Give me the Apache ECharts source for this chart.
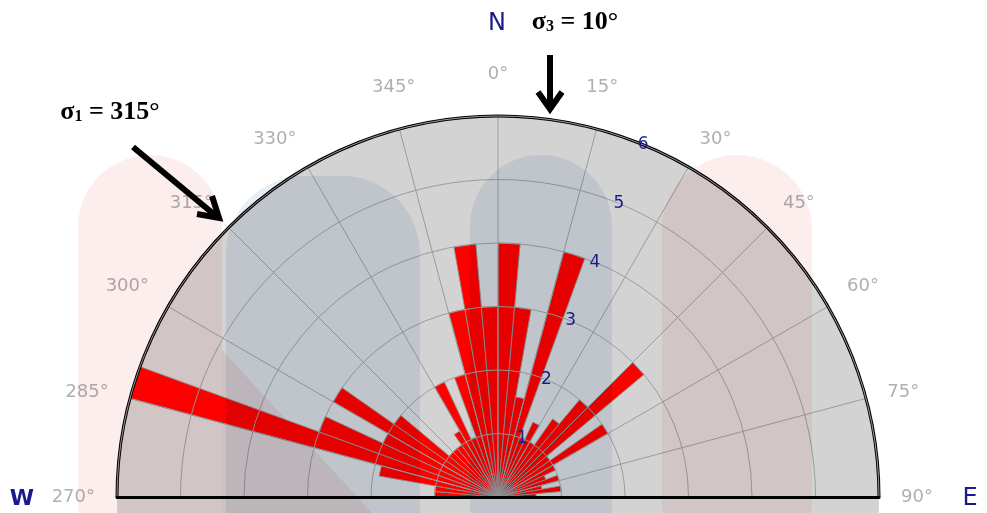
<!DOCTYPE html>
<html><head><meta charset="utf-8">
<script src="https://cdn.jsdelivr.net/npm/echarts@6/dist/echarts.min.js"></script>
<style>html,body{margin:0;padding:0;background:#fff}#c{width:987px;height:513px}</style>
</head><body><div id="c"></div>
<script>
// ---- data ----
const binStarts = [-90,-85,-80,-75,-70,-65,-60,-55,-50,-45,-40,-35,-30,-25,-20,-15,-10,-5,
                   0,5,10,15,20,25,30,35,40,45,50,55,60,65,70,75,80,85];
const binValues = [1,1,1.9,6,3,2,3,2,1,1,1,1.2,2,1,2,3,4,3,
                   4,3,1.6,4,1,1.3,1,1.5,2,3,1,2,1,0.8,1,0.7,1,0.6];
const binWidth = 5;
const angleLabels = ['270°','285°','300°','315°','330°','345°','0°','15°','30°','45°','60°','75°','90°'];
const ringLabels = ['', '1', '2', '3', '4', '5', '6'];
const compassLabels = ['W', 'N', 'E'];
const sigmaLabels = ['1', '315°', '3', '10°'];

// ---- layout ----
const CX = 498, CY = 497, R = 381;
const chart = echarts.init(document.getElementById('c'), null, {renderer: 'canvas'});
const GRID = '#9c9c9c';
const LBL = '#b0b0b0';
const pol = {center: [CX, CY], radius: R};

function angleLabel(v) {
  const t = angleLabels[Math.round((v + 90) / 15)] || '';
  return Math.abs(v) <= 15 ? '{t|' + t + '}' : t;
}

const hidden = {axisLine: {show: false}, axisTick: {show: false}, axisLabel: {show: false}, splitLine: {show: false}};

const option = {
  animation: false,
  backgroundColor: '#fff',
  polar: [pol, pol, pol, pol],
  angleAxis: [
    Object.assign({polarIndex: 0, type: 'value', min: -90, max: 90, interval: 15, startAngle: 180, endAngle: 0, clockwise: true, z: 0,
      splitArea: {show: true, areaStyle: {color: ['#d3d3d3']}}}, hidden),
    {polarIndex: 1, type: 'value', min: -90, max: 90, interval: 15, startAngle: 180, endAngle: 0, clockwise: true, z: 10,
      axisLine: {show: true, lineStyle: {color: '#000', width: 3}},
      axisTick: {show: false},
      splitLine: {show: true, lineStyle: {color: GRID, width: 1}},
      axisLabel: {show: true, margin: 22, color: LBL, fontSize: 18, fontFamily: 'DejaVu Sans',
        formatter: angleLabel,
        rich: {t: {padding: [0, 0, 11, 0], color: LBL, fontSize: 18, fontFamily: 'DejaVu Sans'}}}},
    Object.assign({polarIndex: 2, type: 'value', min: 0, max: 360, startAngle: 67.6, clockwise: true}, hidden),
    Object.assign({polarIndex: 3, type: 'value', min: 0, max: 360, startAngle: 0, clockwise: true}, hidden)
  ],
  radiusAxis: [
    Object.assign({polarIndex: 0, type: 'value', min: 0, max: 6, interval: 1}, hidden),
    {polarIndex: 1, type: 'value', min: 0, max: 6, interval: 1, z: 11,
      axisLine: {show: true, lineStyle: {color: '#000', width: 3}},
      axisTick: {show: false}, axisLabel: {show: false},
      splitLine: {show: true, lineStyle: {color: GRID, width: 1}}},
    {polarIndex: 2, type: 'value', min: 0, max: 6, interval: 1, z: 12,
      axisLine: {show: false}, axisTick: {show: false}, splitLine: {show: false},
      axisLabel: {show: true, margin: 0, align: 'center', verticalAlign: 'middle',
        color: '#1c1c8e', fontSize: 17, fontFamily: 'DejaVu Sans',
        formatter: v => ringLabels[Math.round(v)] || ''}},
    {polarIndex: 3, type: 'value', min: 0, max: 6, interval: 1, z: 11,
      axisLine: {show: true, lineStyle: {color: '#000', width: 3}},
      axisTick: {show: false}, axisLabel: {show: false}, splitLine: {show: false}}
  ],
  series: [{
    type: 'custom',
    coordinateSystem: 'polar',
    polarIndex: 0,
    z: 2,
    data: binStarts.map((s, i) => [binValues[i], s, s + binWidth]),
    renderItem: function (params, api) {
      const cs = params.coordSys;
      const v = api.value(0), a0 = api.value(1), a1 = api.value(2);
      const p0 = api.coord([v, a0]);
      const p1 = api.coord([v, a1]);
      let t0 = Math.atan2(p0[1] - cs.cy, p0[0] - cs.cx);
      let t1 = Math.atan2(p1[1] - cs.cy, p1[0] - cs.cx);
      while (t1 < t0) t1 += Math.PI * 2;
      if (t1 - t0 > Math.PI) t0 += Math.PI * 2;
      const r = Math.hypot(p0[0] - cs.cx, p0[1] - cs.cy);
      return {
        type: 'sector',
        shape: {cx: cs.cx, cy: cs.cy, r0: 0, r: r, startAngle: t0, endAngle: t1, clockwise: true},
        style: {fill: '#ff0000', stroke: '#8f8f8f', lineWidth: 0.9}
      };
    }
  }],
  graphic: [
    // watermark (multiply)
    {type: 'rect', z: 100, silent: true, shape: {x: 78, y: 155, width: 144, height: 420, r: 72}, style: {fill: '#fdeeee', blend: 'multiply'}},
    {type: 'rect', z: 100, silent: true, shape: {x: 226, y: 176, width: 194, height: 420, r: [78, 78, 0, 0]}, style: {fill: '#e7eff5', blend: 'multiply'}},
    {type: 'polygon', z: 100, silent: true, shape: {points: [[222, 350], [372, 513], [222, 513]]}, style: {fill: '#fbeaea', blend: 'multiply'}},
    {type: 'rect', z: 100, silent: true, shape: {x: 470, y: 155, width: 142, height: 420, r: 71}, style: {fill: '#e7eff5', blend: 'multiply'}},
    {type: 'rect', z: 100, silent: true, shape: {x: 662, y: 155, width: 150, height: 420, r: 75}, style: {fill: '#fdeeee', blend: 'multiply'}},
    // compass letters
    {type: 'text', z: 110, x: 22, y: 499, style: {text: compassLabels[0], fill: '#1a1a90', font: 'bold 22px "DejaVu Sans"', align: 'center', verticalAlign: 'middle'}},
    {type: 'text', z: 110, x: 497, y: 24, style: {text: compassLabels[1], fill: '#1a1a90', font: '24px "DejaVu Sans"', align: 'center', verticalAlign: 'middle'}},
    {type: 'text', z: 110, x: 970, y: 499, style: {text: compassLabels[2], fill: '#1a1a90', font: '24px "DejaVu Sans"', align: 'center', verticalAlign: 'middle'}},
    // sigma annotations
    {type: 'text', z: 110, x: 110, y: 112, style: {
      text: '{s|σ}{b|' + sigmaLabels[0] + '}{s| = ' + sigmaLabels[1] + '}', align: 'center', verticalAlign: 'middle',
      rich: {s: {fill: '#000', fontFamily: 'Liberation Serif', fontWeight: 'bold', fontSize: 26},
             b: {fill: '#000', fontFamily: 'Liberation Serif', fontWeight: 'bold', fontSize: 16, verticalAlign: 'bottom'}}}},
    {type: 'text', z: 110, x: 575, y: 22, style: {
      text: '{s|σ}{b|' + sigmaLabels[2] + '}{s| = ' + sigmaLabels[3] + '}', align: 'center', verticalAlign: 'middle',
      rich: {s: {fill: '#000', fontFamily: 'Liberation Serif', fontWeight: 'bold', fontSize: 26},
             b: {fill: '#000', fontFamily: 'Liberation Serif', fontWeight: 'bold', fontSize: 16, verticalAlign: 'bottom'}}}},
    // arrows
    {type: 'line', z: 110, shape: {x1: 133, y1: 147, x2: 216, y2: 216}, style: {stroke: '#000', lineWidth: 6}},
    {type: 'polyline', z: 110, shape: {points: [[197, 214], [219, 218], [212, 196]]}, style: {stroke: '#000', lineWidth: 6, fill: null, lineJoin: 'miter'}},
    {type: 'line', z: 110, shape: {x1: 550, y1: 55, x2: 550, y2: 108}, style: {stroke: '#000', lineWidth: 6}},
    {type: 'polyline', z: 110, shape: {points: [[538, 92], [550, 109], [562, 92]]}, style: {stroke: '#000', lineWidth: 6, fill: null, lineJoin: 'miter'}}
  ]
};
chart.setOption(option);
</script></body></html>
